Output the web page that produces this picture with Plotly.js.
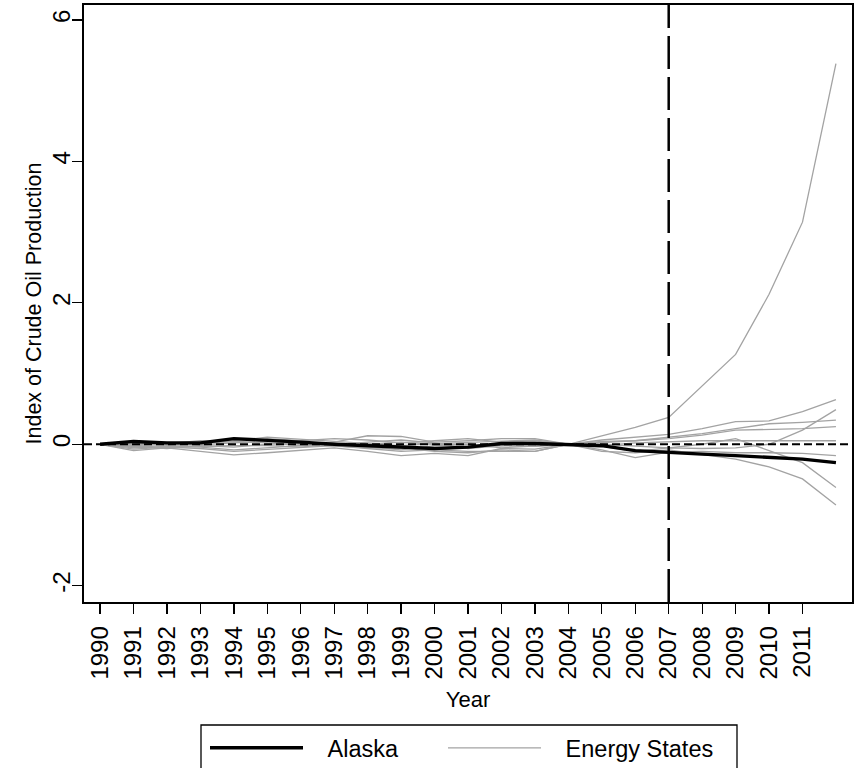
<!DOCTYPE html>
<html>
<head>
<meta charset="utf-8">
<script src="https://cdn.plot.ly/plotly-3.0.1.min.js"></script>
<style>html,body{margin:0;padding:0;background:#fff;}#chart{width:859px;height:768px;}</style>
</head>
<body>
<div id="chart"></div>
<script>
const years = [1990,1991,1992,1993,1994,1995,1996,1997,1998,1999,2000,2001,2002,2003,2004,2005,2006,2007,2008,2009,2010,2011,2012];
const tickYears = [1990,1991,1992,1993,1994,1995,1996,1997,1998,1999,2000,2001,2002,2003,2004,2005,2006,2007,2008,2009,2010,2011];
const treatmentYear = 2007;
const seriesNames = ['Alaska', 'Energy States'];

const alaska = [0,0.04,0.02,0.02,0.08,0.06,0.03,0.0,-0.02,-0.03,-0.06,-0.04,0.01,0.01,0.0,-0.02,-0.09,-0.12,-0.14,-0.16,-0.19,-0.21,-0.26];

const state1 = [0,-0.02,0.0,0.02,0.05,0.1,0.07,0.04,0.02,-0.02,0.01,0.03,0.05,0.06,0.0,0.12,0.24,0.38,0.82,1.27,2.12,3.14,5.38];
const state2 = [0,-0.05,-0.03,-0.04,-0.08,-0.05,-0.02,0.03,0.12,0.11,0.03,0.05,0.08,0.08,0.0,0.06,0.1,0.14,0.22,0.32,0.33,0.46,0.63];
const state3 = [0,-0.09,-0.05,-0.1,-0.15,-0.12,-0.08,-0.05,-0.1,-0.16,-0.13,-0.16,-0.06,-0.07,0.0,-0.03,-0.1,-0.05,-0.06,-0.05,0.0,0.2,0.49];
const state4 = [0,0.02,0.01,0.05,0.03,0.08,0.05,0.08,0.06,0.02,0.05,0.08,0.03,0.05,0.0,0.04,0.05,0.1,0.15,0.22,0.29,0.31,0.34];
const state5 = [0,-0.03,-0.06,-0.02,-0.04,0.0,0.02,0.0,-0.04,-0.08,-0.02,0.0,-0.02,0.02,0.0,0.02,0.05,0.08,0.13,0.2,0.21,0.22,0.25];
const state6 = [0,-0.01,0.02,0.01,0.04,0.02,-0.02,-0.01,0.03,0.06,0.02,-0.06,-0.02,-0.03,0.0,-0.02,0.02,0.04,0.05,0.05,0.05,0.05,0.05];
const state7 = [0,-0.07,-0.04,-0.06,-0.1,-0.07,-0.05,-0.02,-0.06,-0.1,-0.08,-0.1,-0.1,-0.1,0.0,-0.08,-0.19,-0.11,-0.1,-0.12,-0.12,-0.13,-0.16];
const state8 = [0,-0.04,-0.02,-0.03,-0.02,-0.02,-0.04,0.01,0.0,0.03,0.0,0.0,-0.05,-0.03,0.0,0.0,-0.03,-0.05,0.0,0.08,-0.09,-0.26,-0.61];
const state9 = [0,0.01,0.0,-0.01,0.02,0.04,0.0,-0.03,-0.05,-0.05,-0.1,-0.12,-0.08,-0.1,0.0,-0.1,-0.12,-0.08,-0.14,-0.21,-0.32,-0.49,-0.86];
const energyStates = [state1,state2,state3,state4,state5,state6,state7,state8,state9];

const FONT = '"Liberation Sans", Arial, Helvetica, sans-serif';
const GREY = '#a3a3a3';
const PAD = '\u00a0\u00a0\u00a0';

const traces = energyStates.map((s, i) => ({
  x: years, y: s, type: 'scatter', mode: 'lines',
  name: PAD + seriesNames[1], legendgroup: 'energy', showlegend: i === 0, legendrank: 2,
  line: {color: GREY, width: 1.3}, hoverinfo: 'skip'
}));
traces.push({
  x: years, y: alaska, type: 'scatter', mode: 'lines',
  name: PAD + seriesNames[0], legendrank: 1, legendwidth: 130,
  line: {color: '#000000', width: 3.4}
});

const layout = {
  width: 859, height: 768,
  margin: {l: 84, r: 7, t: 5, b: 166},
  paper_bgcolor: '#ffffff', plot_bgcolor: '#ffffff',
  font: {family: FONT, size: 22, color: '#000'},
  showlegend: true,
  xaxis: {
    range: [1989.52, 2012.48],
    tickvals: tickYears, ticktext: tickYears.map(String),
    tickangle: -90, ticks: 'outside', ticklen: 10, tickwidth: 1.3, tickcolor: '#000',
    ticklabelstandoff: 3,
    showline: true, linecolor: '#000', linewidth: 1.6, mirror: true,
    showgrid: false, zeroline: false,
    tickfont: {family: FONT, size: 24},
    title: {text: 'Year', font: {family: FONT, size: 22}, standoff: 13},
    automargin: false
  },
  yaxis: {
    range: [-2.23, 6.21],
    tickvals: [-2,0,2,4,6], ticktext: ['-2','0','2','4','6'],
    tickangle: -90, ticks: 'outside', ticklen: 10, tickwidth: 1.3, tickcolor: '#000',
    ticklabelstandoff: -7,
    showline: true, linecolor: '#000', linewidth: 1.6, mirror: true,
    showgrid: false, zeroline: false,
    tickfont: {family: FONT, size: 24},
    title: {text: 'Index of Crude Oil Production', font: {family: FONT, size: 21.5}, standoff: 0},
    automargin: false
  },
  shapes: [
    {type: 'line', xref: 'paper', x0: 0, x1: 1, yref: 'y', y0: 0, y1: 0,
     line: {color: '#000', width: 2, dash: '8px,4px'}},
    {type: 'line', xref: 'x', x0: treatmentYear, x1: treatmentYear, yref: 'paper', y0: 0, y1: 1,
     line: {color: '#000', width: 2.5, dash: '33px,8px'}},
    {type: 'rect', xref: 'paper', yref: 'paper',
     x0: (201 - 84) / 768, x1: (737 - 84) / 768, y0: -0.33, y1: -(725 - 602) / 597,
     line: {color: '#000', width: 1.3}, fillcolor: 'rgba(0,0,0,0)'}
  ],
  legend: {
    orientation: 'h', xref: 'container', yref: 'container',
    x: 205 / 859, xanchor: 'left', y: 1 - 726 / 768, yanchor: 'top',
    borderwidth: 0, bgcolor: 'rgba(0,0,0,0)',
    font: {family: FONT, size: 23.5}, itemwidth: 93,
    tracegroupgap: 0, traceorder: 'normal'
  }
};

Plotly.newPlot('chart', traces, layout, {staticPlot: true, displayModeBar: false});
</script>
</body>
</html>
